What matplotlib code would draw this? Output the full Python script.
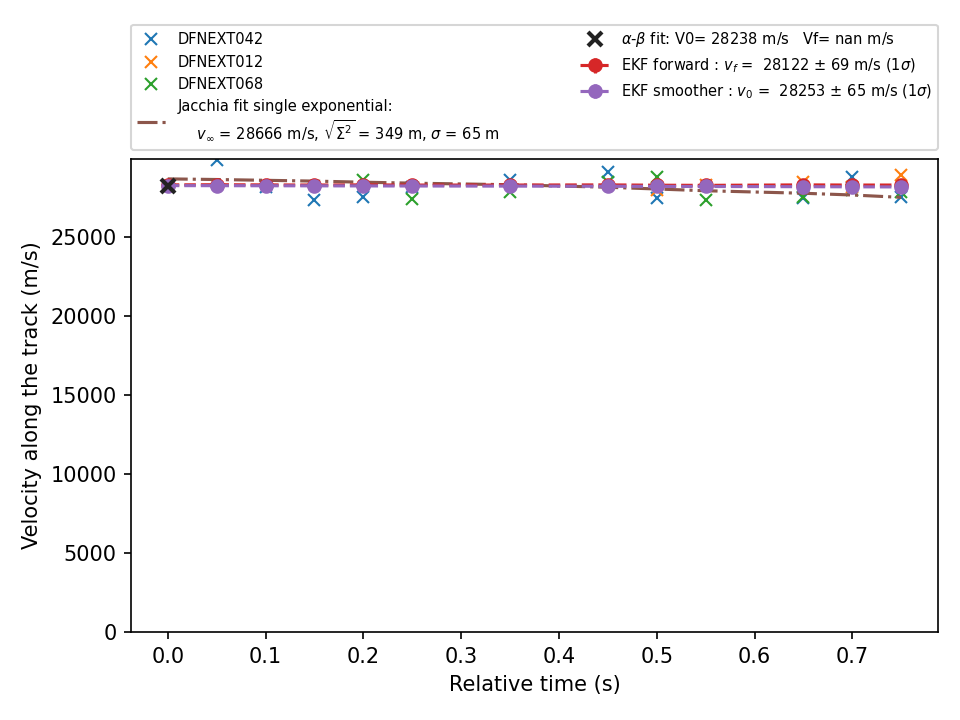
import matplotlib
matplotlib.use("Agg")
import matplotlib.pyplot as plt
import numpy as np

# ---- data ----
t_042 = [0.0, 0.05, 0.1, 0.15, 0.2, 0.25, 0.35, 0.45, 0.5, 0.65, 0.7, 0.75]
v_042 = [28250, 29870, 28190, 27340, 27550, 28190, 28610, 29130, 27450, 27450, 28820, 27550]

t_012 = [0.5, 0.55, 0.65, 0.7, 0.75]
v_012 = [27975, 28290, 28500, 28190, 28920]

t_068 = [0.2, 0.25, 0.35, 0.45, 0.5, 0.55, 0.65, 0.7, 0.75]
v_068 = [28610, 27390, 27870, 28500, 28820, 27340, 27550, 27975, 27870]

t_fit = [0.0, 0.05, 0.1, 0.15, 0.2, 0.25, 0.35, 0.45, 0.5, 0.55, 0.65, 0.7, 0.75]
v_jacchia = [28680, 28640, 28590, 28540, 28470, 28410, 28310, 28150, 28040, 27930, 27770, 27660, 27510]

t_ab = [0.0]
v_ab = [28238]

v_fwd = [28300, 28310, 28300, 28290, 28300, 28290, 28290, 28300, 28280, 28270, 28300, 28290, 28290]
e_fwd = [90, 85, 80, 78, 76, 75, 73, 72, 71, 70, 70, 69, 69]
v_smo = [28253, 28250, 28245, 28240, 28235, 28230, 28222, 28212, 28205, 28198, 28185, 28178, 28170]
e_smo = [65, 65, 65, 65, 65, 65, 65, 65, 65, 65, 65, 65, 65]

lab_jacchia = ("Jacchia fit single exponential:\n"
               "    $v_{\\infty}$ = 28666 m/s, $\\sqrt{\\Sigma^2}$ = 349 m, $\\sigma$ = 65 m")
lab_ab = "$\\alpha$-$\\beta$ fit: V0= 28238 m/s   Vf= nan m/s"
lab_fwd = "EKF forward : $v_f$ =  28122 $\\pm$ 69 m/s (1$\\sigma$)"
lab_smo = "EKF smoother : $v_0$ =  28253 $\\pm$ 65 m/s (1$\\sigma$)"

fig = plt.figure(figsize=(6.4, 4.8), dpi=150)
ax = fig.add_axes([0.1365, 0.1222, 0.977 - 0.1365, 0.7792 - 0.1222])

ax.plot(t_042, v_042, 'x', color='C0', label='DFNEXT042')
ax.plot(t_012, v_012, 'x', color='C1', label='DFNEXT012')
ax.plot(t_068, v_068, 'x', color='C2', label='DFNEXT068')
ax.plot(t_fit, v_jacchia, '-.', color='C5', lw=1.5, label=lab_jacchia)
ax.plot(t_ab, v_ab, 'x', color='#222222', ms=7, mew=2, zorder=5, label=lab_ab)
ax.errorbar(t_fit, v_fwd, yerr=e_fwd, fmt='o--', color='C3', lw=1.5, ms=6, label=lab_fwd)
ax.errorbar(t_fit, v_smo, yerr=e_smo, fmt='o--', color='C4', lw=1.5, ms=6, label=lab_smo)

ax.set_ylim(0, 29940)
ax.set_xlabel('Relative time (s)')
ax.set_ylabel('Velocity along the track (m/s)')

ax.legend(bbox_to_anchor=(0., 1.02, 1., .102), loc='lower left', ncol=2,
          mode='expand', borderaxespad=0., fontsize=7)

fig.savefig('out.png', dpi=150)
